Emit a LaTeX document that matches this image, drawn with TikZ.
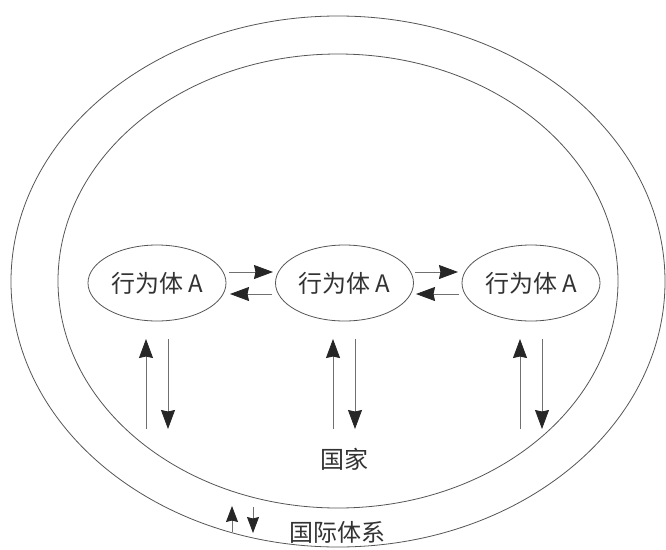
\documentclass[tikz,border=0pt]{standalone}
\usepackage{fontspec}
\setmainfont{Noto Sans CJK SC}
\usetikzlibrary{arrows.meta,shapes.geometric}
\definecolor{ln}{HTML}{555555}
\definecolor{al}{HTML}{707070}
\definecolor{tx}{HTML}{333333}
\definecolor{ah}{HTML}{262626}
\tikzset{
  px/.style={x=1pt,y=-1pt},
  ring/.style={draw=ln, line width=0.8pt},
  actor/.style={draw=ln, line width=0.8pt, ellipse, minimum width=138pt, minimum height=76pt, inner sep=0pt, text=tx, font=\fontsize{24}{24}\selectfont},
  lbl/.style={text=tx, font=\fontsize{24}{24}\selectfont, inner sep=0pt},
  arr/.style={draw=al, line width=0.8pt, -{Stealth[length=19pt,width=14pt,inset=1.5pt,color=ah]}},
  sarr/.style={draw=al, line width=0.8pt, -{Stealth[length=16pt,width=12pt,inset=1.5pt,color=ah]}}
}
\begin{document}
\begin{tikzpicture}[px]
\useasboundingbox (0,0) rectangle (666,549);
\fill[white] (0,0) rectangle (666,549);
\draw[ring] (338,281.5) ellipse [x radius=327, y radius=265.5];
\draw[ring] (338,281) ellipse [x radius=280, y radius=227];
\node[actor] (a1) at (157,283) {行为体 A};
\node[actor] (a2) at (344.5,283) {行为体 A};
\node[actor] (a3) at (531,283) {行为体 A};
% horizontal arrows
\coordinate (h1s) at (229,272); \coordinate (h1e) at (273,272);
\coordinate (h2s) at (272,294); \coordinate (h2e) at (230,294);
\coordinate (h3s) at (415,272); \coordinate (h3e) at (458,272);
\coordinate (h4s) at (459,294); \coordinate (h4e) at (416,294);
\draw[arr] (h1s) -- (h1e);
\draw[arr] (h2s) -- (h2e);
\draw[arr] (h3s) -- (h3e);
\draw[arr] (h4s) -- (h4e);
% vertical arrows
\foreach \u/\d [count=\i] in {146/168, 333/355, 520/542}{
  \coordinate (u\i s) at (\u,429); \coordinate (u\i e) at (\u,339);
  \coordinate (d\i s) at (\d,339); \coordinate (d\i e) at (\d,429);
  \draw[arr] (u\i s) -- (u\i e);
  \draw[arr] (d\i s) -- (d\i e);
}
\node[lbl] (state) at (344,459) {国家};
% bottom small arrows
\coordinate (bus) at (232,532); \coordinate (bue) at (232,506);
\coordinate (bds) at (253,507); \coordinate (bde) at (253,533);
\draw[sarr] (bus) -- (bue);
\draw[sarr] (bds) -- (bde);
\node[lbl] (sys) at (337,532) {国际体系};
\end{tikzpicture}
\end{document}
